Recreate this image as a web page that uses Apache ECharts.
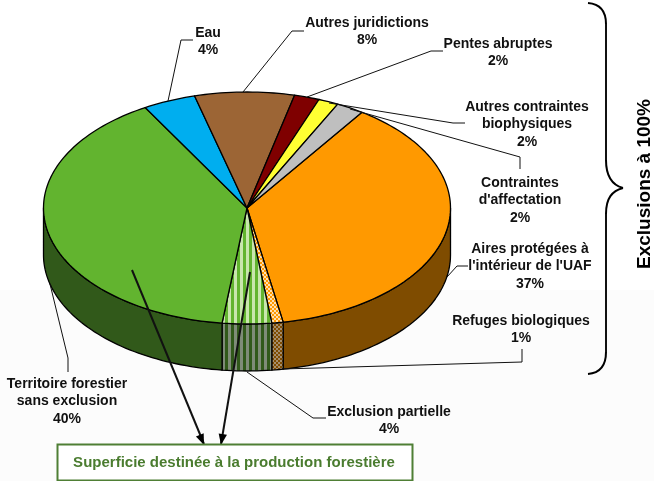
<!DOCTYPE html>
<html>
<head>
<meta charset="utf-8">
<style>html,body{margin:0;padding:0;background:#fff}#chart{width:654px;height:481px}</style>
<script src="https://cdn.jsdelivr.net/npm/echarts@6/dist/echarts.min.js"></script>
</head>
<body>
<div id="chart"></div>
<script>
// parts of the land base, clockwise from the orange/grey boundary
var sliceNames = ["Aires protégées à\nl'intérieur de l'UAF", 'Refuges biologiques', 'Exclusion partielle',
    'Territoire forestier\nsans exclusion', 'Eau', 'Autres juridictions', 'Pentes abruptes',
    'Autres contraintes\nbiophysiques', "Contraintes\nd'affectation"];
var sliceLabels = ['37%', '1%', '4%', '40%', '4%', '8%', '2%', '2%', '2%'];
// shares (the printed labels are rounded)
var sliceShares = [37.6, 0.9, 3.9, 39.7, 4.2, 7.9, 2.0, 1.6, 2.2];
var sliceColors = ['#FF9900', 'hatch', 'stripe', '#62B42F', '#00AEEF', '#9C6535', '#7F0000', '#FFFF33', '#BFBFBF'];
var wallColors = ['#7F4C00', 'hatchDark', 'stripeDark', '#31591A', '#007799', '#4E321A', '#400000', '#80801A', '#606060'];
var labelCenters = [[530, 248], [521, 320], [389, 411], [67, 383], [208, 32], [367, 22], [498, 43], [527, 106], [520, 182]];

var pieCx = 247, pieCy = 208, pieRx = 203.5, pieRy = 116, pieDepth = 47;
var startDeg = 34.4;

function stripePattern(light, base) {
    var c = document.createElement('canvas');
    c.width = 6; c.height = 6;
    var g = c.getContext('2d');
    g.fillStyle = base; g.fillRect(0, 0, 6, 6);
    g.fillStyle = light; g.fillRect(0, 0, 3, 6);
    return {image: c, repeat: 'repeat'};
}
function hatchPattern(light, base) {
    var c = document.createElement('canvas');
    c.width = 4; c.height = 4;
    var g = c.getContext('2d');
    g.fillStyle = base; g.fillRect(0, 0, 4, 4);
    g.fillStyle = light;
    g.fillRect(0, 0, 2, 2); g.fillRect(2, 2, 2, 2);
    return {image: c, repeat: 'repeat'};
}
var fills = {
    stripe: stripePattern('#C9E6AE', '#62B42F'),
    stripeDark: stripePattern('#7F8C78', '#31591A'),
    hatch: hatchPattern('#FFE0B0', '#FF9900'),
    hatchDark: hatchPattern('#A58E6E', '#7F4C00')
};
function fillOf(c) { return fills[c] || c; }

function edge(deg, dy) {
    var a = deg * Math.PI / 180;
    return [pieCx + pieRx * Math.sin(a), pieCy + dy - pieRy * Math.cos(a)];
}
function arc(from, to, dy) {
    var pts = [], n = Math.max(2, Math.ceil(Math.abs(to - from) / 1.5));
    for (var i = 0; i <= n; i++) pts.push(edge(from + (to - from) * i / n, dy));
    return pts;
}

var total = sliceShares.reduce(function (a, b) { return a + b; }, 0);

function renderSlice(params, api) {
    var i = params.dataIndex, before = 0;
    for (var k = 0; k < i; k++) before += sliceShares[k];
    var from = startDeg + before / total * 360;
    var to = from + api.value(0) / total * 360;
    var children = [];
    // side wall, front half only
    var wFrom = Math.max(from, 90), wTo = Math.min(to, 270);
    if (wTo > wFrom) {
        children.push({
            type: 'polygon',
            shape: {points: arc(wFrom, wTo, 0).concat(arc(wTo, wFrom, pieDepth))},
            style: {fill: fillOf(wallColors[i]), stroke: '#000', lineWidth: 1.3, lineJoin: 'round'}
        });
    }
    children.push({
        type: 'polygon',
        shape: {points: [[pieCx, pieCy]].concat(arc(from, to, 0))},
        style: {fill: fillOf(sliceColors[i]), stroke: '#000', lineWidth: 1.3, lineJoin: 'round'}
    });
    return {type: 'group', children: children};
}

function leader(points, width) {
    return {type: 'polyline', z: 20, shape: {points: points},
        style: {fill: null, stroke: '#111', lineWidth: width || 1}};
}
function arrowHead(x0, y0, x1, y1) {
    var a = Math.atan2(y1 - y0, x1 - x0), len = 11, half = 4.2;
    var bx = x1 - len * Math.cos(a), by = y1 - len * Math.sin(a);
    return {type: 'polygon', z: 21, shape: {points: [[x1, y1],
        [bx - half * Math.sin(a), by + half * Math.cos(a)],
        [bx + half * Math.sin(a), by - half * Math.cos(a)]]}, style: {fill: '#000'}};
}
// the big brace on the right, one curve per corner
function braceCurve(x1, y1, cx1, cy1, cx2, cy2, x2, y2) {
    return {type: 'bezierCurve', z: 20,
        shape: {x1: x1, y1: y1, cpx1: cx1, cpy1: cy1, cpx2: cx2, cpy2: cy2, x2: x2, y2: y2},
        style: {fill: null, stroke: '#000', lineWidth: 2}};
}

var labelFont = 'bold 14px "Liberation Sans", Arial, sans-serif';
var graphics = [
    {type: 'rect', z: -1, silent: true, shape: {x: 0, y: 290, width: 654, height: 191}, style: {fill: '#FCFCFC'}},
    leader([[168, 101], [181, 40], [193, 40]]),
    leader([[243, 92], [292, 31], [304, 31]]),
    leader([[307, 97], [431, 51], [443, 51]]),
    leader([[329, 103], [453, 123], [465, 123]]),
    leader([[350, 109], [520, 157], [520, 169]]),
    leader([[447, 277], [457, 266], [468, 266]]),
    leader([[282, 369], [522, 362], [522, 349]]),
    leader([[247, 372], [313, 418], [326, 418]]),
    leader([[50, 284], [68, 358], [68, 372]]),
    leader([[132, 270], [204, 444]], 2),
    leader([[250, 272], [221, 444]], 2),
    arrowHead(132, 270, 204, 445),
    arrowHead(250, 272, 221, 445),
    {type: 'rect', z: 22, shape: {x: 57.5, y: 444.5, width: 355, height: 36},
        style: {fill: '#fff', stroke: '#4F7F35', lineWidth: 2}},
    {type: 'text', z: 23, style: {x: 234, y: 463, text: 'Superficie destinée à la production forestière',
        font: 'bold 15px "Liberation Sans", Arial, sans-serif', fill: '#4A7C2F', align: 'center', verticalAlign: 'middle'}},
    braceCurve(588, 3, 600, 4, 606, 11, 606, 24),
    leader([[606, 24], [606, 160]], 2),
    braceCurve(606, 160, 606, 176, 612, 185, 623, 188),
    braceCurve(623, 188, 612, 191, 606, 198, 606, 214),
    leader([[606, 214], [606, 352]], 2),
    braceCurve(606, 352, 606, 366, 600, 373, 588, 374),
    {type: 'text', z: 20, rotation: Math.PI / 2, x: 645, y: 184,
        style: {x: 0, y: 0, text: 'Exclusions à 100%', font: 'bold 19px "Liberation Sans", Arial, sans-serif',
            fill: '#000', align: 'center', verticalAlign: 'middle'}}
];
sliceNames.forEach(function (name, i) {
    graphics.push({type: 'text', z: 20, style: {
        x: labelCenters[i][0], y: labelCenters[i][1] - 8,
        text: name + '\n' + sliceLabels[i],
        font: labelFont, lineHeight: 17.5, fill: '#111', align: 'center', verticalAlign: 'top'
    }});
});

var chart = echarts.init(document.getElementById('chart'));
chart.setOption({
    animation: false,
    backgroundColor: '#fff',
    graphic: {elements: graphics},
    series: [{
        type: 'custom',
        coordinateSystem: 'none',
        silent: true,
        renderItem: renderSlice,
        data: sliceShares.map(function (v) { return [v]; })
    }]
});
</script>
</body>
</html>
